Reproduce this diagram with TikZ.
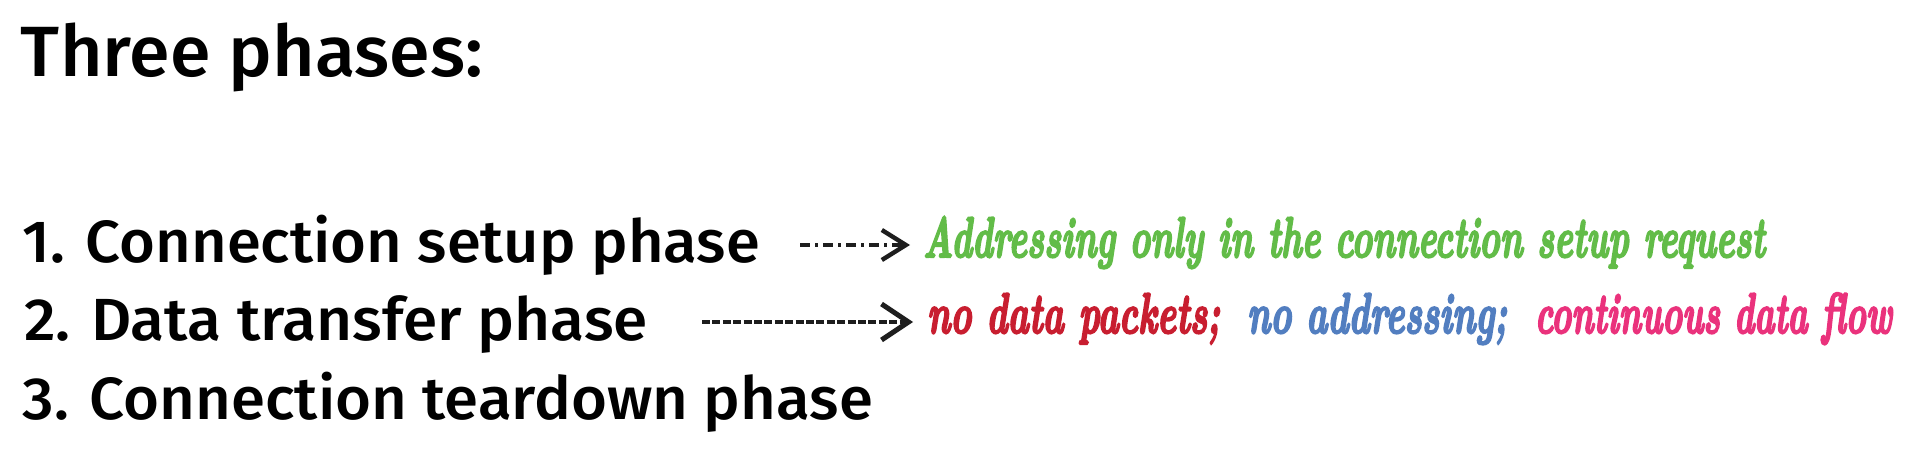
\documentclass[tikz,border=0pt]{standalone}
\usepackage{fontspec}
\usepackage{graphicx}
\usetikzlibrary{arrows.meta}
\newfontfamily\phasefont{Fira Sans}[UprightFont={* Medium}]
\newfontfamily\handfont{Latin Modern Roman}[FakeBold=4]
\definecolor{hgreen}{RGB}{98,188,72}
\definecolor{hred}{RGB}{200,30,48}
\definecolor{hblue}{RGB}{82,126,192}
\definecolor{hpink}{RGB}{234,50,124}
\definecolor{inkgray}{RGB}{30,30,30}
\tikzset{
  phaseline/.style={anchor=base west, inner sep=0pt, outer sep=0pt, text=black,
    font=\phasefont\fontsize{29.75}{34}\selectfont},
  titletext/.style={anchor=base west, inner sep=0pt, outer sep=0pt, text=black,
    font=\phasefont\fontsize{35.6}{40}\selectfont},
  handtext/.style={anchor=base west, inner sep=0pt, outer sep=0pt,
    font=\handfont\bfseries\itshape\fontsize{28.5}{30}\selectfont},
  arrowone/.style={draw=inkgray, line width=2pt,
    dash pattern=on 5pt off 2.5pt on 1.5pt off 2.5pt,
    -{Straight Barb[length=12pt,width=15pt,line width=2.2pt]}},
  arrowtwo/.style={draw=inkgray, line width=1.8pt,
    dash pattern=on 4pt off 1.2pt,
    -{Straight Barb[length=13.5pt,width=18pt,line width=2.5pt]}}
}
\begin{document}
\begin{tikzpicture}[x=0.5pt,y=-0.5pt]
\fill[white] (0,0) rectangle (1906,459);
\useasboundingbox (0,0) rectangle (1906,459);

\node[titletext] (title) at (21,77) {\resizebox{231pt}{\height}{Three phases:}};

\node[phaseline] (l1) at (23,263) {\resizebox{368.5pt}{\height}{1. Connection setup phase}};
\node[phaseline] (l2) at (24,341) {\resizebox{312pt}{\height}{2. Data transfer phase}};
\node[phaseline] (l3) at (23,420) {\resizebox{425pt}{\height}{3. Connection teardown phase}};

\node[handtext, text=hgreen] (green) at (923,257)
  {\resizebox{421pt}{\height}{Addressing only in the connection setup request}};
\node[handtext, text=hred] (red) at (927,333)
  {\resizebox{146.5pt}{\height}{no data packets;}};
\node[handtext, text=hblue] (blue) at (1247,333)
  {\resizebox{130pt}{\height}{no addressing;}};
\node[handtext, text=hpink] (pink) at (1535,333)
  {\resizebox{178.5pt}{\height}{continuous data flow}};

\coordinate (r1) at (0,245);
\coordinate (r2) at (0,322);
\draw[arrowone, shorten <=20pt, shorten >=6.5pt] (l1.east |- r1) -- (green.west |- r1);
\draw[arrowtwo, shorten <=27pt, shorten >=7pt] (l2.east |- r2) -- (red.west |- r2);
\end{tikzpicture}
\end{document}
